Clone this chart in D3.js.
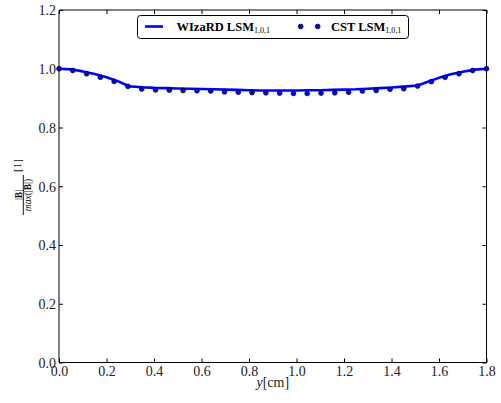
<!DOCTYPE html>
<html>
<head>
<meta charset="utf-8">
<script src="https://cdn.jsdelivr.net/npm/d3@7"></script>
<style>
  html, body { margin: 0; padding: 0; background: #fff; }
  svg { display: block; }
  svg text { font-family: "Liberation Serif", "Times New Roman", serif; }
</style>
</head>
<body>
<svg id="chart" width="501" height="403"></svg>
<script>
// WIzaRD simulation: normalised |B| along y (solid line)
const lineY = [0.00, 0.05, 0.10, 0.15, 0.20, 0.25, 0.29, 0.30, 0.35, 0.40, 0.45, 0.50, 0.55, 0.60,
               0.65, 0.70, 0.75, 0.80, 0.85, 0.90, 0.95, 1.00, 1.05, 1.10, 1.15, 1.20, 1.25, 1.30,
               1.35, 1.40, 1.45, 1.51, 1.55, 1.60, 1.65, 1.70, 1.75, 1.80];
const lineB = [1.000, 0.998, 0.991, 0.982, 0.971, 0.957, 0.942, 0.940, 0.937, 0.935, 0.934, 0.933, 0.932, 0.931,
               0.930, 0.929, 0.928, 0.927, 0.926, 0.926, 0.926, 0.926, 0.927, 0.927, 0.928, 0.929, 0.930, 0.932,
               0.934, 0.936, 0.939, 0.943, 0.955, 0.969, 0.981, 0.990, 0.997, 1.000];

// CST simulation: 32 samples evenly spaced over 0..1.8 cm (markers)
const cstB = [1.000, 0.994, 0.983, 0.971, 0.957, 0.940, 0.931, 0.928, 0.927, 0.926, 0.925, 0.924,
              0.921, 0.920, 0.919, 0.918, 0.917, 0.916, 0.916, 0.917, 0.918, 0.920, 0.924, 0.926,
              0.930, 0.932, 0.941, 0.956, 0.971, 0.983, 0.994, 1.000];
const cstY = cstB.map((_, i) => i * 1.8 / (cstB.length - 1));

const xTicks = [0.0, 0.2, 0.4, 0.6, 0.8, 1.0, 1.2, 1.4, 1.6, 1.8];
const yTicks = [0.0, 0.2, 0.4, 0.6, 0.8, 1.0, 1.2];

const SERIF = '"Liberation Serif", "Times New Roman", serif';
const svg = d3.select("#chart");
const x = d3.scaleLinear().domain([0, 1.8]).range([59, 486.5]);
const y = d3.scaleLinear().domain([0, 1.2]).range([362.5, 10]);
const [x0, x1] = x.range();
const [y0, y1] = y.range();
const tickLen = 4;
const fmt = d3.format(".1f");

// plot frame
svg.append("line").attr("x1", x0).attr("x2", x0).attr("y1", y0).attr("y2", y1).attr("stroke", "#000");
svg.append("line").attr("x1", x0).attr("x2", x1).attr("y1", y1).attr("y2", y1).attr("stroke", "#000");
svg.append("line").attr("x1", x1).attr("x2", x1).attr("y1", y0).attr("y2", y1).attr("stroke", "#000");
svg.append("line").attr("x1", x0).attr("x2", x1).attr("y1", y0).attr("y2", y0).attr("stroke", "#000");

// inward ticks on all four sides, labels on bottom/left
const axBottom = svg.append("g").attr("transform", `translate(0,${y0})`)
  .call(d3.axisBottom(x).tickValues(xTicks).tickSizeInner(-tickLen).tickSizeOuter(0).tickPadding(4).tickFormat(fmt));
const axTop = svg.append("g").attr("transform", `translate(0,${y1})`)
  .call(d3.axisTop(x).tickValues(xTicks).tickSizeInner(-tickLen).tickSizeOuter(0).tickFormat(""));
const axLeft = svg.append("g").attr("transform", `translate(${x0},0)`)
  .call(d3.axisLeft(y).tickValues(yTicks).tickSizeInner(-tickLen).tickSizeOuter(0).tickPadding(3).tickFormat(fmt));
const axRight = svg.append("g").attr("transform", `translate(${x1},0)`)
  .call(d3.axisRight(y).tickValues(yTicks).tickSizeInner(-tickLen).tickSizeOuter(0).tickFormat(""));

[axBottom, axTop, axLeft, axRight].forEach(g => {
  g.attr("font-family", SERIF).attr("font-size", 14);
  g.select(".domain").remove();
  g.selectAll(".tick line").attr("stroke", "#000");
  g.selectAll(".tick text").attr("fill", "#222").attr("font-family", SERIF).attr("font-size", 14);
});
axBottom.selectAll(".tick text").attr("dy", "0.71em");
axLeft.selectAll(".tick text").attr("dy", "0.34em");

// x axis title: y[cm]
const xt = svg.append("text").attr("x", (x0 + x1) / 2).attr("y", 387)
  .attr("text-anchor", "middle").attr("fill", "#222")
  .attr("font-family", SERIF).attr("font-size", 14);
xt.append("tspan").attr("font-style", "italic").text("y");
xt.append("tspan").text("[cm]");

// y axis title: |B| / max(|B|) [1], drawn as a rotated fraction
const yl = svg.append("g").attr("transform", "translate(24,186) rotate(-90)")
  .attr("font-family", SERIF).attr("fill", "#111");
yl.append("line").attr("x1", -29).attr("x2", 11).attr("y1", -0.7).attr("y2", -0.7)
  .attr("stroke", "#000").attr("stroke-width", 0.9);
const num = yl.append("text").attr("x", -9).attr("y", -2.5).attr("text-anchor", "middle")
  .attr("font-size", 9.5);
num.append("tspan").text("|");
num.append("tspan").attr("font-weight", "bold").text("B");
num.append("tspan").text("|");
const den = yl.append("text").attr("x", -9).attr("y", 7.2).attr("text-anchor", "middle")
  .attr("font-size", 9.5);
den.append("tspan").attr("font-style", "italic").text("max");
den.append("tspan").text("(|");
den.append("tspan").attr("font-weight", "bold").text("B");
den.append("tspan").text("|)");
yl.append("text").attr("x", 14).attr("y", -3).attr("font-size", 11).text("[1]");

// data
const line = d3.line().x((d, i) => x(lineY[i])).y(d => y(d));
svg.append("path").datum(lineB).attr("d", line)
  .attr("fill", "none").attr("stroke", "#0000ff").attr("stroke-width", 2.6).attr("stroke-linejoin", "round");

svg.append("g").selectAll("circle").data(cstB).join("circle")
  .attr("cx", (d, i) => x(cstY[i])).attr("cy", d => y(d)).attr("r", 2.4)
  .attr("fill", "#0000ff").attr("stroke", "#000").attr("stroke-width", 0.7);

// legend
const lg = svg.append("g").attr("font-family", SERIF);
lg.append("rect").attr("x", 137.5).attr("y", 15.5).attr("width", 271).attr("height", 23)
  .attr("rx", 3).attr("fill", "#fff").attr("stroke", "#000").attr("stroke-width", 1);
lg.append("line").attr("x1", 145).attr("x2", 163).attr("y1", 26.5).attr("y2", 26.5)
  .attr("stroke", "#0000ff").attr("stroke-width", 2.6);
[300.7, 317.7].forEach(cx => lg.append("circle").attr("cx", cx).attr("cy", 26.5).attr("r", 2.4)
  .attr("fill", "#0000ff").attr("stroke", "#000").attr("stroke-width", 0.7));

function legendLabel(xPos, main) {
  const t = lg.append("text").attr("x", xPos).attr("y", 30.5).attr("fill", "#000").attr("font-size", 12.5);
  t.append("tspan").attr("font-weight", "bold").text(main);
  t.append("tspan").attr("dy", 2).attr("font-size", 8).text("1,0,1");
}
legendLabel(176.5, "WIzaRD LSM");
legendLabel(331, "CST LSM");
</script>
</body>
</html>
